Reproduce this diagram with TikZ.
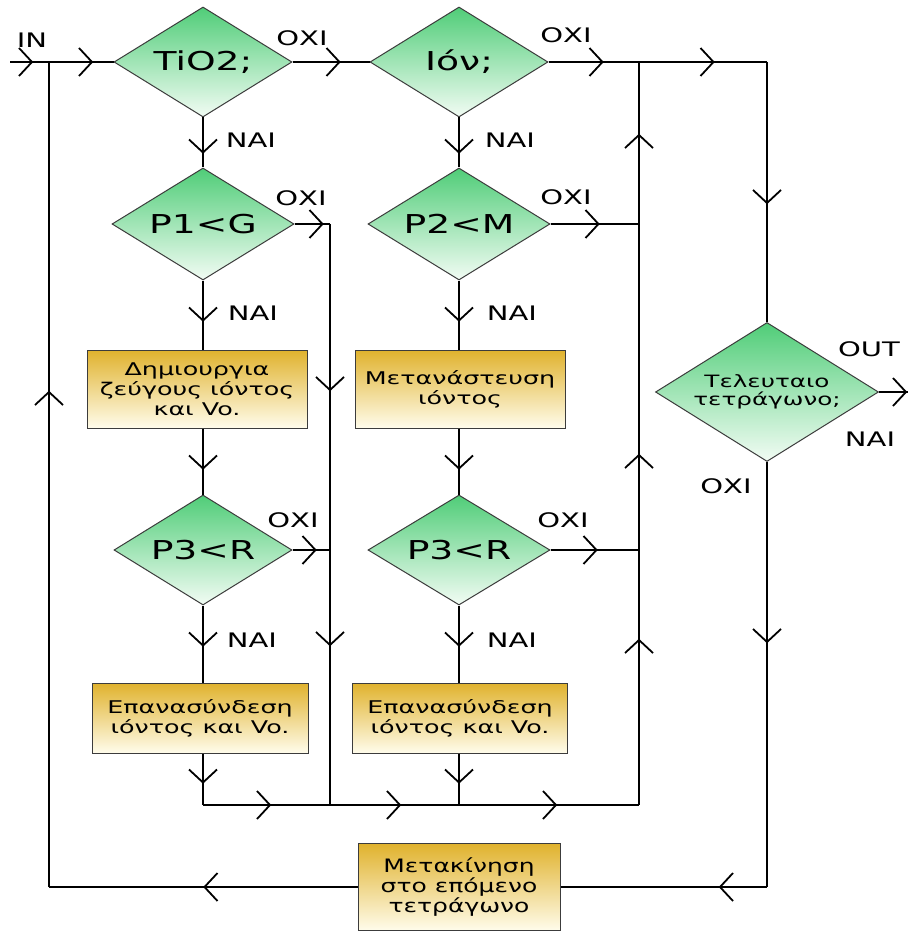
\documentclass[tikz,border=0pt]{standalone}
\usepackage{fontspec}
\setmainfont{DejaVu Sans}[FakeStretch=1.45]
\newfontfamily\narrowfont{DejaVu Sans}[FakeStretch=1.35]
\usetikzlibrary{shapes.geometric,decorations.markings}
\definecolor{dgreen}{RGB}{80,205,120}
\definecolor{dwhite}{RGB}{242,252,244}
\definecolor{bgold}{RGB}{224,178,45}
\definecolor{bwhite}{RGB}{255,252,235}
\definecolor{edge}{RGB}{60,60,60}
\begin{document}
\begin{tikzpicture}[x=1pt,y=-1pt,line width=1.5pt,
  chev/.style={postaction={decorate,decoration={markings,mark=at position #1 with {\draw[line width=1.8pt,line join=miter] (-13pt,14pt) -- (0pt,0pt) -- (-13pt,-14pt);}}}},
  dec/.style={diamond,draw=edge,line width=1pt,top color=dgreen,bottom color=dwhite,minimum width=178pt,minimum height=110pt,inner sep=0pt,aspect=1.6,font=\fontsize{26}{30}\selectfont},
  proc/.style={rectangle,draw=edge,line width=1pt,top color=bgold,bottom color=bwhite,align=center,inner sep=0pt,font=\fontsize{17.5}{20}\selectfont},
  lbl/.style={font=\fontsize{20}{23}\selectfont,inner sep=0pt}]
\useasboundingbox[fill=white] (0,0) rectangle (910,933);

% decisions
\node[dec] (d1) at (203,62) {TiO2;};
\node[dec] (d2) at (459,62) {Ιόν;};
\node[dec,minimum width=182pt,minimum height=112pt] (d3) at (203,224) {P1<G};
\node[dec,minimum width=182pt,minimum height=112pt] (d4) at (459,224) {P2<M};
\node[dec] (d5) at (203,550) {P3<R};
\node[dec,minimum width=182pt] (d6) at (459,550) {P3<R};
\node[dec,minimum width=223pt,minimum height=139pt,align=center,font=\fontsize{17}{18.5}\selectfont] (d7) at (767,392) {Τελευταιο\\τετράγωνο;};

% processes
\node[proc,minimum width=220pt,minimum height=78pt] (b1) at (197,389) {Δημιουργια\\ζεύγους ιόντος\\και Vo.};
\node[proc,minimum width=210pt,minimum height=78pt] (b2) at (460,389) {Μετανάστευση\\ιόντος};
\node[proc,minimum width=216pt,minimum height=70pt] (b3) at (200,718) {Επανασύνδεση\\ιόντος και Vo.};
\node[proc,minimum width=215pt,minimum height=70pt] (b4) at (460,718) {Επανασύνδεση\\ιόντος και Vo.};
\node[proc,minimum width=202pt,minimum height=87pt,font=\narrowfont\fontsize{18.5}{20}\selectfont] (b5) at (459,887) {Μετακίνηση\\στο επόμενο\\τετράγωνο};

% coordinates
\coordinate (in) at (10,62);
\coordinate (jL) at (49,62);
\coordinate (tr) at (767,62);
\coordinate (rt) at (639,62);
\coordinate (out) at (908,392);
\coordinate (br) at (767,887);
\coordinate (bl) at (49,887);
\coordinate (j1t) at (330,224);
\coordinate (j1m) at (330,550);
\coordinate (j1b) at (330,805);
\coordinate (c1b) at (203,805);
\coordinate (c2b) at (459,805);
\coordinate (rb) at (639,805);
\coordinate (rm1) at (639,224);
\coordinate (rm2) at (639,550);

% main top line
\draw[chev=22pt,chev=82pt] (in) -- (d1.west);
\draw[chev=47pt] (d1.east) -- (d2.west);
\draw[chev=54pt,chev=165pt] (d2.east) -- (tr);
\draw[chev=141pt] (tr) -- (d7.north);
\draw[chev=0.93] (d7.east) -- (out);
\draw[chev=180pt] (d7.south) -- (br);
\draw[chev=47pt] (br) -- (b5.east);
\draw[chev=153pt] (b5.west) -- (bl);
\draw[chev=495pt] (bl) -- (jL);

% column 1
\draw[chev=35pt] (d1.south) -- (d3.north);
\draw[chev=40pt] (d3.south) -- (d3.south |- b1.north);
\draw[chev=40pt] (d3.south |- b1.south) -- (d5.north);
\draw[chev=40pt] (d5.south) -- (d5.south |- b3.north);
\draw[chev=29pt] (d5.south |- b3.south) -- (c1b);
\draw[chev=67pt] (c1b) -- (j1b);
\draw[chev=28pt] (d3.east) -- (j1t);
\draw[chev=166pt,chev=421pt] (j1t) -- (j1b);
\draw[chev=23pt] (d5.east) -- (j1m);
\draw[chev=70pt] (j1b) -- (c2b);

% column 2
\draw[chev=35pt] (d2.south) -- (d4.north);
\draw[chev=40pt] (d4.south) -- (d4.south |- b2.north);
\draw[chev=40pt] (d4.south |- b2.south) -- (d6.north);
\draw[chev=40pt] (d6.south) -- (d6.south |- b4.north);
\draw[chev=29pt] (d6.south |- b4.south) -- (c2b);
\draw[chev=97pt] (c2b) -- (rb);
\draw[chev=165pt,chev=350pt,chev=670pt] (rb) -- (rt);
\draw[chev=48pt] (d4.east) -- (rm1);
\draw[chev=46pt] (d6.east) -- (rm2);

% labels
\node[lbl] (lin) at (32,40) {IN};
\node[lbl] (l1) at (302,38) {ΟΧΙ};
\node[lbl] (l2) at (566,35) {ΟΧΙ};
\node[lbl] (l3) at (251,140) {ΝΑΙ};
\node[lbl] (l4) at (510,140) {ΝΑΙ};
\node[lbl] (l5) at (301,198) {ΟΧΙ};
\node[lbl] (l6) at (253,313) {ΝΑΙ};
\node[lbl] (l7) at (566,197) {ΟΧΙ};
\node[lbl] (l8) at (512,313) {ΝΑΙ};
\node[lbl] (lout) at (869,349) {OUT};
\node[lbl] (l9) at (870,439) {ΝΑΙ};
\node[lbl] (l10) at (726,486) {ΟΧΙ};
\node[lbl] (l11) at (293,520) {ΟΧΙ};
\node[lbl] (l12) at (252,640) {ΝΑΙ};
\node[lbl] (l13) at (563,520) {ΟΧΙ};
\node[lbl] (l14) at (512,640) {ΝΑΙ};
\end{tikzpicture}
\end{document}
